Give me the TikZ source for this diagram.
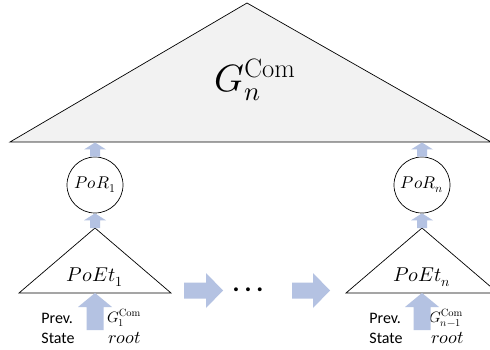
\documentclass[tikz,border=0pt]{standalone}
\usepackage{fontspec}
\usepackage{unicode-math}
\setmathfont{Latin Modern Math}
\setsansfont{Carlito}
\usetikzlibrary{calc}
\definecolor{arrowblue}{HTML}{B4C2E2}
\definecolor{trifill}{HTML}{F2F2F2}
\newcommand\uparr[5]{%
  \fill[arrowblue] let \p1=(#1), \p2=(#2) in
    (\x2,\y2) -- (\x2+#4pt,\y2-#5pt) -- (\x2+#3pt,\y2-#5pt) -- (\x2+#3pt,\y1)
    -- (\x2-#3pt,\y1) -- (\x2-#3pt,\y2-#5pt) -- (\x2-#4pt,\y2-#5pt) -- cycle;}
\newcommand\rightarr[5]{%
  \fill[arrowblue] let \p1=(#1), \p2=(#2) in
    (\x2,\y2) -- (\x2-#5pt,\y2+#4pt) -- (\x2-#5pt,\y2+#3pt) -- (\x1,\y2+#3pt)
    -- (\x1,\y2-#3pt) -- (\x2-#5pt,\y2-#3pt) -- (\x2-#5pt,\y2-#4pt) -- cycle;}
\begin{document}
\begin{tikzpicture}[x=1pt,y=-1pt,
  tri/.style={draw=black,line width=0.7pt,line join=miter},
  por/.style={circle,draw=black,line width=0.7pt,minimum size=56pt,inner sep=0pt,
    font=\fontsize{17}{19}\selectfont},
  poet/.style={inner sep=0pt,font=\fontsize{20}{22}\selectfont},
  prev/.style={inner sep=0pt,align=left,font=\sffamily\fontsize{16}{20}\selectfont},
  glab/.style={inner sep=0pt,font=\fontsize{15}{16}\selectfont},
  rootlab/.style={inner sep=0pt,font=\fontsize{18}{18}\selectfont}]
\clip (0,0) rectangle (490,350);
\fill[white] (0,0) rectangle (490,350);

% big triangle
\coordinate (gtop) at (247,3);
\coordinate (gl) at (10,142);
\coordinate (gr) at (491,142);
\draw[tri,fill=trifill] (gtop) -- (gl) -- (gr) -- cycle;
\node[inner sep=0pt,font=\fontsize{38}{40}\selectfont] (gcom) at (255,80) {$G_n^{\mathrm{Com}}$};

% left column
\coordinate (gb1) at (95,142.5);
\node[por] (por1) at (95,185) {$PoR_1$};
\coordinate (t1top) at (95,228);
\coordinate (t1l) at (19,293);
\coordinate (t1r) at (171,293);
\draw[tri] (t1top) -- (t1l) -- (t1r) -- cycle;
\node[poet] (poet1) at (95,277) {$PoEt_1$};
\coordinate (t1b) at (95,293);
\coordinate (in1) at (95,330);
\node[prev] (prev1) at (58,328) {Prev.\\State};
\node[glab] (g1) at (124,318) {$G_1^{\mathrm{Com}}$};
\node[rootlab] (root1) at (125,338) {$root$};

% right column
\coordinate (gbn) at (422,142.5);
\node[por] (porn) at (422,185) {$PoR_n$};
\coordinate (tntop) at (422,228);
\coordinate (tnl) at (346,293);
\coordinate (tnr) at (498,293);
\draw[tri] (tntop) -- (tnl) -- (tnr) -- cycle;
\node[poet] (poetn) at (422,277) {$PoEt_n$};
\coordinate (tnb) at (422,293);
\coordinate (inn) at (422,330);
\node[prev] (prevn) at (386,328) {Prev.\\State};
\node[glab] (gn) at (446,318) {$G_{n-1}^{\mathrm{Com}}$};
\node[rootlab] (rootn) at (448,338) {$root$};

% dots
\node[inner sep=0pt,font=\sffamily\bfseries\fontsize{26}{26}\selectfont] (dots) at (248,290) {.\hspace{5pt}.\hspace{5pt}.};

% arrows
\uparr{por1.north}{gb1}{5}{11}{7}
\uparr{t1top}{por1.south}{5}{11}{7}
\uparr{in1}{t1b}{8.5}{17}{14}
\uparr{porn.north}{gbn}{5}{11}{7}
\uparr{tntop}{porn.south}{5}{11}{7}
\uparr{inn}{tnb}{8.5}{17}{14}
\coordinate (a1s) at (184,290.5);
\coordinate (a1e) at (223,290.5);
\coordinate (a2s) at (292,290.5);
\coordinate (a2e) at (330,290.5);
\rightarr{a1s}{a1e}{8}{17.5}{17}
\rightarr{a2s}{a2e}{8}{17.5}{17}
\end{tikzpicture}
\end{document}
